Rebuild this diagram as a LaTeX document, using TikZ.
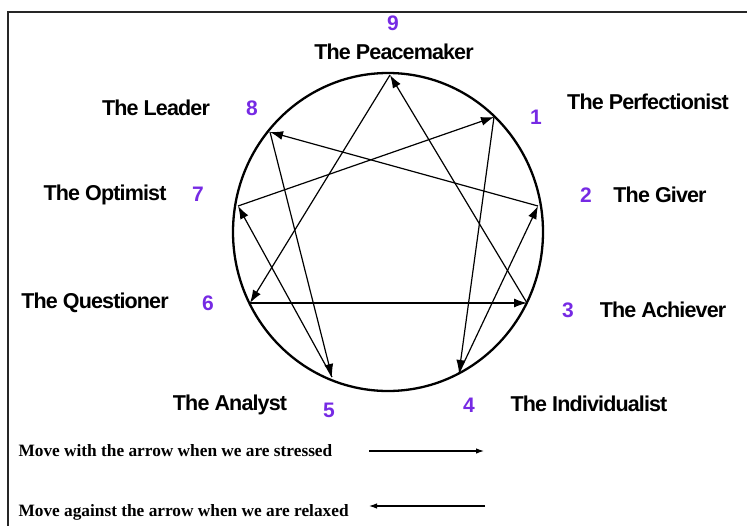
\documentclass[tikz,border=0pt]{standalone}
\usepackage{fontspec}
\setmainfont{Liberation Sans}
\newfontfamily\typefont[LetterSpace=-4]{Liberation Sans}
\newfontfamily\legendfont{Liberation Serif}
\usetikzlibrary{arrows.meta}
\definecolor{numviolet}{RGB}{118,42,228}

\begin{document}
\begin{tikzpicture}[x=1pt,y=-1pt,
    chord/.style={line width=1.2pt,-{Latex[length=13pt,width=9pt]}},
    keyarrow/.style={line width=1.1pt,-{Latex[length=8pt,width=5.5pt]}},
    num/.style={text=numviolet,font=\bfseries\fontsize{21}{24}\selectfont},
    typename/.style={font=\typefont\bfseries\fontsize{21.5}{24}\selectfont},
    legend/.style={anchor=west,font=\legendfont\bfseries\fontsize{17.3}{19}\selectfont}]

            \useasboundingbox (0,0) rectangle (747,525);
            \draw[line width=1.6pt,black!85] (8,530) -- (8,12) -- (750,12);

            \draw[line width=2.3pt] (388,232) ellipse [x radius=155, y radius=159];

            \coordinate (p9) at (390,75);
            \coordinate (p1) at (494,117);
            \coordinate (p2) at (538,206);
            \coordinate (p3) at (527,303);
            \coordinate (p4) at (459,373);
            \coordinate (p5) at (332,377);
            \coordinate (p6) at (250,303);
            \coordinate (p7) at (238,206);
            \coordinate (p8) at (270,132);

            \draw[chord] (p1) -- (p4);
            \draw[chord] (p4) -- (p2);
            \draw[chord] (p2) -- (p8);
            \draw[chord] (p8) -- (p5);
            \draw[chord] (p5) -- (p7);
            \draw[chord] (p7) -- (p1);
            \draw[chord] (p9) -- (p6);
            \draw[chord] (p6) -- (p3);
            \draw[chord] (p3) -- (p9);

            \node[num] (n9) at (393,23) {9};
            \node[typename] (peacemaker) at (394,52) {The Peacemaker};
            \node[num] (n1) at (536,117) {1};
            \node[typename] (perfectionist) at (648,102) {The Perfectionist};
            \node[num] (n2) at (586,195) {2};
            \node[typename] (giver) at (660,195) {The Giver};
            \node[num] (n3) at (568,310) {3};
            \node[typename] (achiever) at (663,310) {The Achiever};
            \node[num] (n4) at (469,405) {4};
            \node[typename] (individualist) at (589,404) {The Individualist};
            \node[num] (n5) at (329,410) {5};
            \node[typename] (analyst) at (230,405) {The Analyst};
            \node[num] (n6) at (208,303) {6};
            \node[typename] (questioner) at (95,303) {The Questioner};
            \node[num] (n7) at (198,194) {7};
            \node[typename] (optimist) at (105,195) {The Optimist};
            \node[num] (n8) at (252,108) {8};
            \node[typename] (leader) at (156,108) {The Leader};

            \node[legend] (stressed) at (15,451) {Move with the arrow when we are stressed};
            \coordinate (s1) at (369,451);
            \coordinate (s2) at (484,451);
            \draw[keyarrow] (s1) -- (s2);

            \node[legend] (relaxed) at (15,512) {Move against the arrow when we are relaxed};
            \coordinate (r1) at (485,506);
            \coordinate (r2) at (369,506);
            \draw[keyarrow] (r1) -- (r2);
        \end{tikzpicture}
\end{document}
